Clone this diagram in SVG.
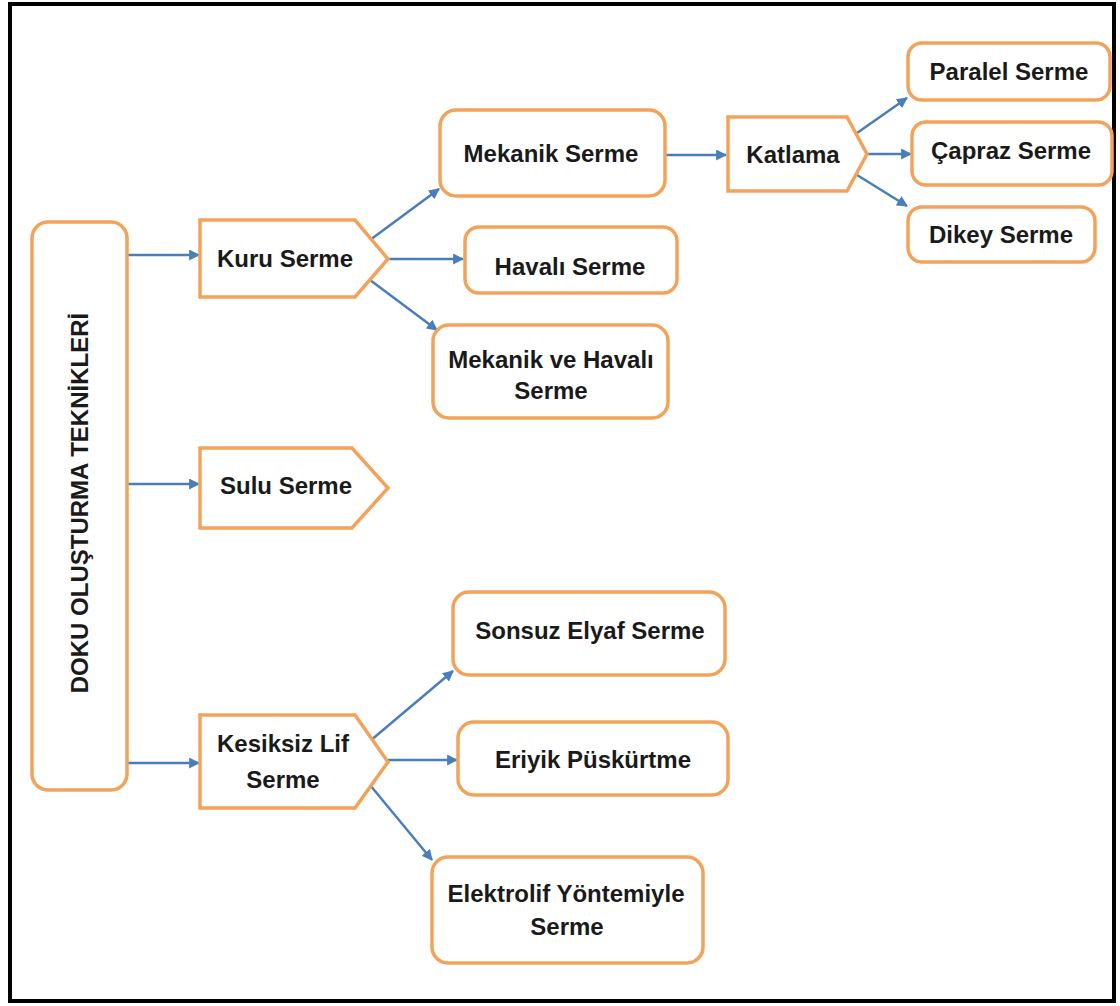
<svg xmlns="http://www.w3.org/2000/svg" width="1120" height="1006" viewBox="0 0 1120 1006">
<defs>
<marker id="ah" viewBox="0 0 10 10" refX="9" refY="5" markerWidth="4.4" markerHeight="4.4" orient="auto" markerUnits="strokeWidth">
<path d="M0,0 L10,5 L0,10 z" fill="#4A7EBB"/>
</marker>
</defs>
<style>
.box{fill:#fff;stroke:#F3A25A;stroke-width:3.5}
.t{font-family:"Liberation Sans",Arial,sans-serif;font-weight:bold;font-size:24px;fill:#1a1a1a;text-anchor:middle}
.c{stroke:#4A7EBB;stroke-width:2.5;fill:none;marker-end:url(#ah)}
</style>
<rect x="0" y="0" width="1120" height="1006" fill="#fff"/>
<rect x="10" y="4" width="1104" height="997" fill="none" stroke="#000" stroke-width="4"/>

<g id="connectors">
<line class="c" x1="128" y1="255" x2="199" y2="255"/>
<line class="c" x1="128" y1="484" x2="199" y2="484"/>
<line class="c" x1="128" y1="763" x2="199" y2="763"/>
<line class="c" x1="370" y1="240" x2="439" y2="189"/>
<line class="c" x1="388" y1="259" x2="463" y2="259"/>
<line class="c" x1="370" y1="280" x2="437" y2="330"/>
<line class="c" x1="666" y1="155" x2="726" y2="155"/>
<line class="c" x1="857" y1="133" x2="907" y2="98"/>
<line class="c" x1="867" y1="154" x2="911" y2="154"/>
<line class="c" x1="857" y1="175" x2="907" y2="206"/>
<line class="c" x1="370" y1="741" x2="453" y2="671"/>
<line class="c" x1="388" y1="760" x2="457" y2="760"/>
<line class="c" x1="370" y1="785" x2="432" y2="860"/>
</g>

<g id="root">
<rect class="box" x="32" y="222" width="95" height="568" rx="16"/>
<text class="t" transform="translate(88,503) rotate(-90)">DOKU OLUŞTURMA TEKNİKLERİ</text>
</g>

<g id="kuru">
<path class="box" d="M200,220 L355,220 L388,259 L355,297 L200,297 Z"/>
<text class="t" x="285" y="267">Kuru Serme</text>
</g>
<g id="sulu">
<path class="box" d="M200,448 L352,448 L388,488 L352,528 L200,528 Z"/>
<text class="t" x="286" y="494">Sulu Serme</text>
</g>
<g id="kesiksiz">
<path class="box" d="M200,715 L355,715 L388,762 L355,808 L200,808 Z"/>
<text class="t" x="283" y="752">Kesiksiz Lif</text>
<text class="t" x="283" y="788">Serme</text>
</g>

<g id="mekanik">
<rect class="box" x="440" y="110" width="225" height="86" rx="16"/>
<text class="t" x="551" y="162">Mekanik Serme</text>
</g>
<g id="havali">
<rect class="box" x="465" y="227" width="212" height="66" rx="14"/>
<text class="t" x="570" y="275">Havalı Serme</text>
</g>
<g id="mekhav">
<rect class="box" x="433" y="325" width="235" height="93" rx="16"/>
<text class="t" x="551" y="368">Mekanik ve Havalı</text>
<text class="t" x="551" y="399">Serme</text>
</g>

<g id="katlama">
<path class="box" d="M728,117 L847,117 L867,154 L847,191 L728,191 Z"/>
<text class="t" x="793" y="163">Katlama</text>
</g>
<g id="paralel">
<rect class="box" x="908" y="43" width="202" height="57" rx="14"/>
<text class="t" x="1009" y="80">Paralel Serme</text>
</g>
<g id="capraz">
<rect class="box" x="912" y="122" width="200" height="63" rx="14"/>
<text class="t" x="1011" y="159">Çapraz Serme</text>
</g>
<g id="dikey">
<rect class="box" x="908" y="207" width="187" height="55" rx="14"/>
<text class="t" x="1001" y="243">Dikey Serme</text>
</g>

<g id="sonsuz">
<rect class="box" x="453" y="592" width="272" height="83" rx="16"/>
<text class="t" x="590" y="639">Sonsuz Elyaf Serme</text>
</g>
<g id="eriyik">
<rect class="box" x="458" y="722" width="270" height="73" rx="16"/>
<text class="t" x="593" y="768">Eriyik Püskürtme</text>
</g>
<g id="elektrolif">
<rect class="box" x="432" y="857" width="271" height="106" rx="16"/>
<text class="t" x="566" y="902">Elektrolif Yöntemiyle</text>
<text class="t" x="567" y="935">Serme</text>
</g>
</svg>
